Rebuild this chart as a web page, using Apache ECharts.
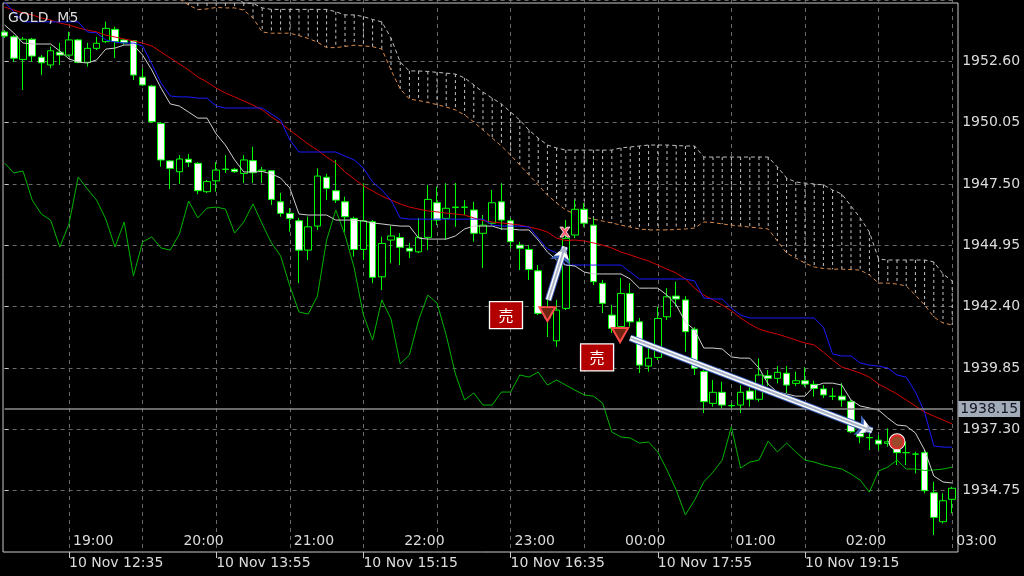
<!DOCTYPE html>
<html><head><meta charset="utf-8">
<script src="https://cdn.jsdelivr.net/npm/echarts@6/dist/echarts.min.js"></script>
<style>html,body{margin:0;padding:0;background:#000;}#c{width:1024px;height:576px;}</style>
</head><body><div id="c"></div>
<script>
const BASE = 1932.20;
const title = 'GOLD, M5';
const categories = [
'12:00','12:05','12:10','12:15','12:20','12:25','12:30','12:35','12:40','12:45','12:50','12:55',
'13:00','13:05','13:10','13:15','13:20','13:25','13:30','13:35','13:40','13:45','13:50','13:55',
'14:00','14:05','14:10','14:15','14:20','14:25','14:30','14:35','14:40','14:45','14:50','14:55',
'15:00','15:05','15:10','15:15','15:20','15:25','15:30','15:35','15:40','15:45','15:50','15:55',
'16:00','16:05','16:10','16:15','16:20','16:25','16:30','16:35','16:40','16:45','16:50','16:55',
'17:00','17:05','17:10','17:15','17:20','17:25','17:30','17:35','17:40','17:45','17:50','17:55',
'18:00','18:05','18:10','18:15','18:20','18:25','18:30','18:35','18:40','18:45','18:50','18:55',
'19:00','19:05','19:10','19:15','19:20','19:25','19:30','19:35','19:40','19:45','19:50','19:55',
'20:00','20:05','20:10','20:15','20:20','20:25','20:30','20:35'];
const dateTickAt = ['12:35','13:55','15:15','16:35','17:55','19:15'];
const dateTickText = ['10 Nov 12:35','10 Nov 13:55','10 Nov 15:15','10 Nov 16:35','10 Nov 17:55','10 Nov 19:15'];
const hourTickAt = ['12:35','13:35','14:35','15:35','16:35','17:35','18:35','19:35','20:35'];
const hourTickText = ['19:00','20:00','21:00','22:00','23:00','00:00','01:00','02:00','03:00'];
const priceMin = 1932.20, priceMax = 1955.15, priceStep = 2.55;
const lastPrice = 1938.15;

const open = [
1953.82,1953.62,1952.68,1953.52,1952.77,1952.45,1952.98,1952.86,1953.49,1952.56,
1953.14,1953.42,1953.93,1953.49,1953.46,1951.94,1951.57,1950.02,1948.46,1948.01,
1948.53,1948.36,1947.18,1947.63,1948.10,1948.11,1947.94,1948.47,1948.04,1948.05,
1946.76,1946.28,1945.97,1944.75,1945.75,1947.78,1947.22,1946.76,1946.07,1944.78,
1945.93,1943.64,1945.17,1945.27,1944.83,1944.68,1945.28,1946.72,1946.07,1946.52,
1946.53,1946.42,1945.45,1945.87,1946.76,1945.97,1944.96,1944.78,1943.89,1942.14,
1940.98,1942.33,1945.38,1946.45,1945.79,1943.37,1942.05,1941.57,1942.95,1941.77,
1939.93,1940.29,1941.98,1942.84,1942.68,1941.46,1939.70,1938.38,1938.84,1938.29,
1938.31,1938.89,1938.55,1939.53,1939.42,1939.63,1939.21,1939.32,1939.17,1938.98,
1938.68,1938.68,1938.45,1937.13,1936.96,1936.85,1936.72,1936.47,1936.33,1936.27,
1936.33,1934.66,1933.46,1934.39];
const close = [
1953.65,1952.73,1953.52,1952.82,1952.54,1953.04,1952.86,1953.49,1952.56,1953.14,
1953.35,1953.97,1953.42,1953.37,1952.03,1951.62,1950.09,1948.50,1948.15,1948.54,
1948.40,1947.22,1947.60,1948.08,1948.12,1948.01,1948.50,1947.97,1948.08,1946.86,
1946.28,1946.07,1944.75,1945.72,1947.83,1947.32,1946.83,1946.14,1944.78,1945.97,
1943.62,1945.03,1945.34,1944.87,1944.71,1945.28,1946.86,1946.00,1946.49,1946.54,
1946.54,1945.45,1945.79,1946.72,1946.00,1945.10,1944.83,1943.95,1942.12,1941.93,
1942.26,1945.24,1946.45,1945.87,1943.44,1942.54,1941.50,1942.95,1941.77,1939.97,
1940.26,1941.91,1942.81,1942.72,1941.36,1939.84,1938.45,1938.84,1938.31,1938.28,
1938.84,1938.55,1939.56,1939.42,1939.67,1939.14,1939.32,1939.18,1939.00,1938.73,
1938.67,1938.52,1937.20,1936.99,1936.95,1936.69,1936.78,1936.33,1936.33,1936.27,
1934.75,1933.64,1934.33,1934.85];
const low = [
1953.57,1952.58,1951.41,1952.58,1952.03,1952.31,1952.45,1952.79,1952.52,1952.38,
1953.07,1953.36,1952.74,1953.28,1951.82,1951.57,1950.04,1948.22,1947.29,1947.50,
1948.21,1947.08,1947.13,1947.18,1947.96,1947.96,1947.54,1947.54,1947.54,1946.63,
1946.14,1945.52,1943.38,1944.34,1945.59,1946.83,1946.71,1945.52,1944.48,1944.34,
1943.38,1943.09,1944.21,1944.13,1944.42,1944.63,1944.75,1945.79,1945.17,1945.72,
1946.21,1945.10,1944.01,1945.79,1945.59,1944.84,1943.92,1943.51,1942.05,1941.14,
1940.73,1942.26,1945.25,1945.71,1943.30,1942.14,1941.30,1941.15,1941.57,1939.64,
1939.70,1940.18,1941.84,1942.40,1940.53,1939.56,1937.98,1938.24,1938.17,1938.19,
1937.98,1938.24,1938.45,1939.10,1939.21,1938.81,1939.10,1939.07,1938.66,1938.60,
1938.52,1938.24,1937.15,1936.72,1936.44,1936.44,1936.58,1935.82,1935.82,1935.47,
1934.64,1932.91,1933.39,1933.81];
const high = [
1953.90,1953.69,1953.61,1953.57,1952.86,1953.21,1953.37,1953.83,1953.53,1953.37,
1953.62,1954.25,1954.04,1953.53,1953.49,1952.31,1951.62,1950.08,1948.50,1948.70,
1948.75,1948.41,1947.67,1948.41,1948.70,1948.17,1948.70,1949.05,1948.21,1948.08,
1947.13,1946.50,1946.09,1946.14,1948.15,1947.92,1948.50,1946.97,1946.14,1947.53,
1946.00,1945.31,1945.75,1945.46,1945.05,1946.09,1947.46,1947.39,1947.53,1947.54,
1946.83,1946.76,1946.21,1947.25,1947.53,1946.09,1945.10,1944.96,1944.13,1942.68,
1942.68,1946.00,1946.83,1946.71,1946.09,1943.51,1942.47,1943.59,1943.38,1941.93,
1940.73,1942.40,1943.17,1943.44,1942.84,1941.55,1939.77,1939.35,1939.28,1938.39,
1939.14,1939.14,1940.25,1939.77,1939.93,1939.93,1939.70,1939.88,1939.32,1939.14,
1939.02,1939.22,1938.52,1937.20,1937.27,1937.06,1937.34,1936.65,1936.78,1936.37,
1936.44,1935.12,1934.64,1934.91];

const tenkan = [
1954.11,1953.78,1953.36,1953.32,1953.32,1953.32,1953.03,1952.70,1952.57,1952.53,
1952.66,1953.11,1953.15,1953.28,1953.28,1952.86,1952.24,1951.49,1950.83,1950.74,
1950.49,1950.24,1950.24,1949.58,1949.12,1948.50,1948.00,1948.00,1948.02,1947.92,
1947.75,1947.33,1946.25,1946.21,1946.21,1946.21,1946.00,1946.00,1946.00,1945.96,
1945.88,1945.84,1945.79,1945.75,1945.75,1945.25,1945.21,1945.21,1945.21,1945.34,
1945.63,1945.75,1945.75,1945.75,1945.63,1945.63,1945.59,1945.59,1945.17,1944.67,
1944.34,1944.13,1944.09,1943.84,1943.76,1943.76,1943.76,1943.76,1943.55,1943.17,
1943.17,1943.17,1942.88,1942.47,1941.76,1941.43,1940.68,1940.68,1940.64,1940.31,
1940.26,1940.26,1939.85,1939.18,1938.85,1938.77,1938.68,1938.68,1939.10,1939.22,
1939.22,1939.14,1938.52,1938.27,1938.19,1938.10,1937.77,1937.48,1937.44,1937.15,
1936.44,1935.36,1935.11,1935.07];
const kijun = [
1955.07,1954.65,1954.24,1954.24,1954.24,1954.24,1954.24,1954.24,1954.24,1953.82,
1953.78,1953.49,1953.40,1953.36,1953.36,1953.24,1952.49,1951.70,1951.16,1951.12,
1951.12,1951.07,1951.07,1950.74,1950.66,1950.66,1950.66,1950.66,1950.66,1950.41,
1950.16,1949.33,1948.83,1948.83,1948.83,1948.83,1948.83,1948.66,1948.50,1948.16,
1947.58,1947.25,1946.83,1946.09,1946.04,1946.04,1946.04,1946.04,1946.04,1946.04,
1946.04,1946.04,1946.04,1945.79,1945.75,1945.75,1945.75,1945.71,1945.25,1944.80,
1944.63,1944.13,1944.13,1944.13,1944.13,1944.13,1944.13,1944.13,1943.84,1943.55,
1943.55,1943.55,1943.55,1943.55,1943.55,1943.47,1942.76,1942.72,1942.72,1942.34,
1942.05,1941.93,1941.93,1941.93,1941.93,1941.93,1941.93,1941.93,1941.93,1941.55,
1940.43,1940.35,1940.35,1940.06,1939.97,1939.93,1939.85,1939.56,1939.47,1938.85,
1938.02,1936.61,1936.56,1936.56];
const movingAvg = [
1954.86,1954.73,1954.61,1954.53,1954.40,1954.32,1954.19,1954.11,1953.99,1953.90,
1953.82,1953.69,1953.61,1953.53,1953.45,1953.36,1953.24,1952.99,1952.74,1952.49,
1952.24,1951.95,1951.74,1951.49,1951.28,1951.12,1950.95,1950.78,1950.58,1950.29,
1950.04,1949.74,1949.45,1949.16,1948.91,1948.62,1948.37,1948.00,1947.71,1947.42,
1947.21,1947.00,1946.83,1946.67,1946.54,1946.46,1946.38,1946.34,1946.29,1946.25,
1946.21,1946.09,1945.98,1945.92,1945.88,1945.84,1945.79,1945.71,1945.63,1945.50,
1945.25,1945.15,1945.17,1945.13,1945.05,1944.96,1944.84,1944.67,1944.55,1944.42,
1944.30,1944.13,1943.96,1943.80,1943.55,1943.17,1942.88,1942.68,1942.47,1942.22,
1941.93,1941.68,1941.47,1941.35,1941.26,1941.14,1941.01,1940.89,1940.81,1940.51,
1940.18,1939.89,1939.77,1939.64,1939.47,1939.18,1938.98,1938.77,1938.52,1938.27,
1938.02,1937.85,1937.69,1937.52];
const chikou = [
1948.37,1947.96,1948.04,1946.83,1946.25,1946.00,1944.88,1945.84,1947.79,1947.29,
1946.83,1946.04,1944.88,1945.92,1943.67,1945.09,1945.30,1944.84,1944.75,1945.42,
1946.79,1946.09,1946.50,1946.54,1946.46,1945.46,1945.92,1946.67,1945.84,1945.05,
1944.51,1943.26,1942.18,1942.09,1942.84,1945.17,1946.42,1945.38,1944.01,1942.05,
1941.01,1942.68,1941.89,1940.02,1940.39,1941.84,1942.88,1942.55,1941.22,1939.60,
1938.52,1938.81,1938.31,1938.31,1938.85,1938.85,1939.56,1939.47,1939.68,1939.14,
1939.35,1939.14,1938.93,1938.73,1938.68,1938.39,1937.19,1936.98,1936.94,1936.73,
1936.77,1936.36,1935.61,1934.78,1933.74,1934.36,1935.11,1935.52,1936.02,1937.40,
1935.69,1935.94,1936.02,1936.81,1936.36,1936.73,1936.36,1936.02,1935.94,1935.82,
1935.73,1935.65,1935.44,1935.19,1934.69,1935.57,1935.73,1936.02,1935.65,1935.65,
1935.59,1935.61,1935.65,1935.73];
const spanA = [
null,null,null,null,null,null,null,null,null,null,
null,null,null,null,null,null,null,null,null,1955.27,
1955.27,1955.27,1955.27,1955.27,1955.27,1955.27,1955.03,1955.01,1954.82,1954.76,
1954.76,1954.76,1954.76,1954.76,1954.76,1954.76,1954.66,1954.53,1954.53,1954.46,
1954.34,1954.24,1953.57,1952.57,1952.20,1952.20,1952.18,1952.14,1952.11,1952.07,
1951.91,1951.62,1951.32,1951.07,1950.83,1950.49,1950.16,1949.74,1949.41,1949.12,
1949.00,1948.91,1948.91,1948.91,1948.91,1948.91,1948.91,1949.00,1949.04,1949.08,
1949.12,1949.12,1949.12,1949.10,1949.08,1949.08,1948.62,1948.62,1948.62,1948.62,
1948.62,1948.62,1948.62,1948.62,1948.21,1947.75,1947.58,1947.54,1947.50,1947.46,
1947.25,1947.08,1946.58,1946.09,1945.50,1944.38,1944.34,1944.34,1944.34,1944.34,
1944.34,1944.26,1943.76,1943.47];
const spanB = [
null,null,null,null,null,null,null,null,null,null,
null,null,null,null,null,null,null,null,null,1955.19,
1954.94,1954.75,1954.78,1954.84,1954.82,1954.82,1954.73,1954.40,1953.82,1953.77,
1953.77,1953.77,1953.67,1953.55,1953.40,1953.17,1953.17,1953.22,1953.27,1953.24,
1953.21,1953.11,1952.24,1951.45,1951.03,1950.97,1950.89,1950.80,1950.70,1950.58,
1950.37,1950.08,1949.74,1949.41,1949.08,1948.70,1948.29,1947.87,1947.46,1947.04,
1946.71,1946.42,1946.25,1946.13,1946.04,1945.96,1945.88,1945.79,1945.71,1945.63,
1945.59,1945.59,1945.59,1945.61,1945.63,1945.67,1945.92,1945.90,1945.84,1945.79,
1945.75,1945.71,1945.67,1945.63,1945.13,1944.63,1944.42,1944.21,1944.05,1943.99,
1943.96,1943.96,1943.94,1943.92,1943.72,1943.38,1943.38,1943.34,1943.26,1942.88,
1942.47,1941.97,1941.72,1941.64];

// trade annotations: [bar position, price]
const sellLabelPts = [[54.5, 1942.05], [64.4, 1940.29]];
const sellLabelText = '売';
const sellArrowPts = [[59.0, 1942.09], [66.9, 1941.22]];
const closeCrossPts = [[60.9, 1945.50]];
const exitCirclePts = [[97.0, 1936.78]];
const tradeLines = [
  [[59.1, 1942.68], [60.9, 1944.89]],
  [[68.0, 1941.10], [94.3, 1937.24]]
];

const sh = v => (v == null ? null : +(v - BASE).toFixed(4));
const candleData = open.map((o, i) => [sh(o), sh(close[i]), sh(low[i]), sh(high[i])]);
const cloudData = spanA.map((a, i) => (a == null || spanB[i] == null) ? null : [i, sh(a), sh(spanB[i])]).filter(d => d);
const ptsShift = arr => arr.map(p => [p[0], sh(p[1])]);

const FONT = 'DejaVu Sans';
const TXT = '#dcdcdc';
const GRIDC = '#6a6a6a';

const lineSeries = (name, data, color, extra) => Object.assign({
  name, type: 'line', data: data.map(sh), xAxisIndex: 0, yAxisIndex: 0,
  showSymbol: false, symbol: 'none', smooth: false, z: 4,
  lineStyle: { color, width: 1 }, silent: true
}, extra || {});

const chart = echarts.init(document.getElementById('c'), null, { renderer: 'canvas' });
const option = {
  backgroundColor: '#000000',
  animation: false,
  title: { text: title, left: 3, top: 6, textStyle: { color: TXT, fontSize: 14, fontWeight: 'normal', fontFamily: FONT } },
  grid: { left: 4.6, right: 71.8, top: 0, bottom: 24 },
  graphic: [{ type: 'rect', z: 0, shape: { x: 3, y: 3, width: 955, height: 549 }, style: { fill: null, stroke: '#c8c8c8', lineWidth: 1 } }],
  xAxis: [
    { type: 'category', data: categories, boundaryGap: false, position: 'bottom',
      axisLine: { show: false },
      axisTick: { show: true, length: 6, lineStyle: { color: '#c8c8c8' }, interval: (i, v) => dateTickAt.includes(v) },
      axisLabel: { show: true, interval: (i, v) => dateTickAt.includes(v), formatter: v => dateTickText[dateTickAt.indexOf(v)],
        align: 'left', margin: 4, color: TXT, fontSize: 14, fontFamily: FONT },
      splitLine: { show: true, interval: i => i >= 7 && (i - 7) % 8 === 0, lineStyle: { color: GRIDC, type: [4, 4], width: 1 } } },
    { type: 'category', data: categories, boundaryGap: false, position: 'bottom', offset: -24,
      axisLine: { show: false }, axisTick: { show: false }, splitLine: { show: false },
      axisLabel: { show: true, interval: (i, v) => hourTickAt.includes(v), formatter: v => hourTickText[hourTickAt.indexOf(v)],
        align: 'left', margin: 6, padding: [0, 0, 0, 4], color: TXT, fontSize: 14, fontFamily: FONT } },
    { type: 'value', min: 0, max: categories.length - 1, show: false }
  ],
  yAxis: [{ type: 'value', position: 'right', offset: 6, min: 0, max: +(priceMax - priceMin).toFixed(2), interval: priceStep,
    axisLine: { show: false },
    axisTick: { show: true, length: 4, lineStyle: { color: '#c8c8c8' } },
    axisLabel: { color: TXT, fontSize: 14, fontFamily: FONT, margin: 4, showMinLabel: false, showMaxLabel: false,
      formatter: v => (v + BASE).toFixed(2) },
    splitLine: { show: true, lineStyle: { color: GRIDC, type: [4, 4], width: 1 } } }],
  series: [
    { type: 'custom', name: 'cloud', xAxisIndex: 0, yAxisIndex: 0, z: 1, silent: true, data: cloudData,
      renderItem: (params, api) => {
        const i = api.value(0);
        const p1 = api.coord([i, api.value(1)]);
        const p2 = api.coord([i, api.value(2)]);
        const top = params.coordSys.y + 3;
        let y1 = Math.max(p1[1], top), y2 = Math.max(p2[1], top);
        if (Math.abs(y2 - y1) < 1) return null;
        return { type: 'line', shape: { x1: p1[0], y1, x2: p1[0], y2 },
          style: { stroke: '#c4c4c4', lineWidth: 1, lineDash: [3, 3] } };
      } },
    lineSeries('spanA', spanA, '#bdbdbd', { z: 2, lineStyle: { color: '#bdbdbd', width: 1, type: [4, 3] }, connectNulls: false }),
    lineSeries('spanB', spanB, '#d9894a', { z: 2, lineStyle: { color: '#d9894a', width: 1, type: [4, 3] }, connectNulls: false }),
    { type: 'candlestick', name: 'GOLD', data: candleData, xAxisIndex: 0, yAxisIndex: 0, z: 3, barWidth: 7, clip: false, silent: true,
      itemStyle: { color: '#000000', color0: '#ffffff', borderColor: '#00ff00', borderColor0: '#00ff00', borderWidth: 1 } },
    lineSeries('chikou', chikou, '#00b400'),
    lineSeries('ma', movingAvg, '#d40000'),
    lineSeries('kijun', kijun, '#1a1aff'),
    lineSeries('tenkan', tenkan, '#cfcfcf', {
      markLine: { silent: true, symbol: ['none', 'none'], animation: false,
        data: [{ yAxis: sh(lastPrice) }],
        lineStyle: { color: '#8e8e8e', width: 1.5, type: 'solid' },
        label: { show: true, position: 'end', distance: 6, formatter: lastPrice.toFixed(2), color: '#15151f',
          backgroundColor: '#a2abba', padding: [1, 2, 1, 2], fontSize: 14, fontFamily: FONT } } }),
    { type: 'lines', coordinateSystem: 'cartesian2d', xAxisIndex: 2, yAxisIndex: 0, z: 6, silent: true,
      symbol: ['none', 'arrow'], symbolSize: 16,
      lineStyle: { color: '#3b5fb5', width: 7, opacity: 1 },
      data: tradeLines.map(l => ({ coords: ptsShift(l) })) },
    { type: 'lines', coordinateSystem: 'cartesian2d', xAxisIndex: 2, yAxisIndex: 0, z: 7, silent: true,
      symbol: ['none', 'arrow'], symbolSize: 12,
      lineStyle: { color: '#ffffff', width: 5, opacity: 1 },
      data: tradeLines.map(l => ({ coords: ptsShift(l) })) },
    { type: 'lines', coordinateSystem: 'cartesian2d', xAxisIndex: 2, yAxisIndex: 0, z: 8, silent: true,
      symbol: ['none', 'arrow'], symbolSize: 7,
      lineStyle: { color: '#a9b3c6', width: 2, opacity: 1 },
      data: tradeLines.map(l => ({ coords: ptsShift(l) })) },
    { type: 'scatter', name: 'sellLabel', xAxisIndex: 2, yAxisIndex: 0, z: 9, silent: true, data: ptsShift(sellLabelPts),
      symbol: 'rect', symbolSize: [33, 27],
      itemStyle: { color: '#b20000', borderColor: '#ffffff', borderWidth: 1.2, opacity: 1 },
      label: { show: true, position: 'inside', formatter: sellLabelText, color: '#ffffff', fontSize: 15, fontFamily: 'Noto Sans CJK JP' } },
    { type: 'scatter', name: 'sellArrow', xAxisIndex: 2, yAxisIndex: 0, z: 9, silent: true, data: ptsShift(sellArrowPts),
      symbol: 'triangle', symbolRotate: 180, symbolSize: [16, 14],
      itemStyle: { color: '#6e2410', borderColor: '#ff4a4a', borderWidth: 2, opacity: 1 } },
    { type: 'scatter', name: 'closeCross', xAxisIndex: 2, yAxisIndex: 0, z: 9, silent: true, data: ptsShift(closeCrossPts),
      symbol: 'path://M0,0 L3,0 L5,2.5 L7,0 L10,0 L6.5,5 L10,10 L7,10 L5,7.5 L3,10 L0,10 L3.5,5 Z', symbolSize: 10,
      itemStyle: { color: '#ff5a72', borderColor: '#ffffff', borderWidth: 0.8, opacity: 1 } },
    { type: 'scatter', name: 'exitRing', xAxisIndex: 2, yAxisIndex: 0, z: 9, silent: true, data: ptsShift(exitCirclePts),
      symbol: 'circle', symbolSize: 17, itemStyle: { color: '#ffffff', opacity: 1 } },
    { type: 'scatter', name: 'exitCircle', xAxisIndex: 2, yAxisIndex: 0, z: 10, silent: true, data: ptsShift(exitCirclePts),
      symbol: 'circle', symbolSize: 13, itemStyle: { color: '#9a4a2a', borderColor: '#e02828', borderWidth: 2, opacity: 1 } }
  ]
};
chart.setOption(option);
</script>
</body></html>
